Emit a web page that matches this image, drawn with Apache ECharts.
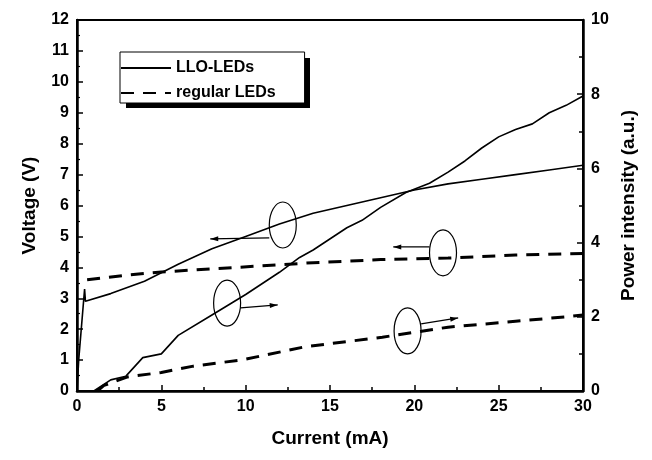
<!DOCTYPE html>
<html>
<head>
<meta charset="utf-8">
<title>LED I-V and L-I</title>
<script src="https://cdn.jsdelivr.net/npm/echarts@6/dist/echarts.min.js"></script>
</head>
<body style="margin:0;background:#fff;">
<div id="main" style="width:652px;height:460px;"></div>
<script type="text/javascript">
// current (mA) / voltage (V), LLO-LEDs
var lloVCurrent = [0, 0.1, 0.45, 0.5, 2, 4, 6, 8, 10, 12, 14, 16, 18, 20, 22, 24, 26, 28, 30];
var lloVoltage  = [0, 1.0, 3.3, 2.9, 3.15, 3.55, 4.1, 4.6, 5.0, 5.4, 5.75, 6.0, 6.25, 6.5, 6.7, 6.85, 7.0, 7.15, 7.3];
// regular LEDs voltage
var regVCurrent = [0.6, 3, 5, 8, 11, 14, 18, 22, 26, 30];
var regVoltage  = [3.6, 3.75, 3.85, 3.95, 4.05, 4.15, 4.25, 4.3, 4.4, 4.45];
// power intensity (a.u.), LLO-LEDs
var lloPCurrent = [1.0, 2.0, 2.9, 3.9, 5.0, 6.0, 8, 10, 12, 13.2, 14, 16, 16.9, 18, 19.5, 20.9, 22, 23, 24, 25, 26, 27, 28, 29, 30];
var lloPower    = [0, 0.3, 0.4, 0.9, 1.0, 1.5, 2.05, 2.6, 3.2, 3.6, 3.8, 4.4, 4.6, 4.95, 5.35, 5.6, 5.9, 6.2, 6.55, 6.85, 7.05, 7.2, 7.5, 7.7, 7.95];
// power intensity, regular LEDs
var regPCurrent = [1.2, 1.6, 3, 5, 6.9, 9.8, 13.5, 18.1, 22, 26, 29, 30];
var regPower    = [0, 0.15, 0.38, 0.5, 0.67, 0.84, 1.19, 1.45, 1.72, 1.88, 2.0, 2.05];

var seriesNames = ['LLO-LEDs', 'regular LEDs'];

function pairs(xs, ys) {
    var out = [];
    for (var i = 0; i < xs.length; i++) out.push([xs[i], ys[i]]);
    return out;
}

var font = '"Liberation Sans", Arial, sans-serif';
var solid = { color: '#000', width: 1.6, type: 'solid' };
var dashed = { color: '#000', width: 3, type: [13, 9] };

var myChart = echarts.init(document.getElementById('main'));

var option = {
    animation: false,
    backgroundColor: '#fff',
    grid: { left: 77, right: 69, top: 20, bottom: 69, show: true, borderColor: '#000', borderWidth: 2 },
    legend: {
        data: seriesNames,
        orient: 'vertical',
        left: 120, top: 52,
        itemWidth: 50, itemHeight: 14, itemGap: 9,
        padding: [8, 29, 2, 0],
        backgroundColor: '#fff',
        borderColor: '#000', borderWidth: 1,
        itemStyle: { opacity: 0 },
        textStyle: { fontFamily: font, fontWeight: 'bold', fontSize: 16, color: '#000' }
    },
    xAxis: {
        type: 'value', min: 0, max: 30, interval: 5,
        name: 'Current (mA)', nameLocation: 'middle', nameGap: 38,
        nameTextStyle: { fontFamily: font, fontWeight: 'bold', fontSize: 19, color: '#000' },
        axisLine: { lineStyle: { color: '#000', width: 2.5 } },
        axisTick: { inside: true, length: 6, lineStyle: { color: '#000', width: 1.5 } },
        minorTick: { show: true, splitNumber: 2, length: 4, lineStyle: { color: '#000', width: 1.5 } },
        axisLabel: { fontFamily: font, fontWeight: 'bold', fontSize: 16, color: '#000', margin: 8 },
        splitLine: { show: false }
    },
    yAxis: [{
        type: 'value', min: 0, max: 12, interval: 1,
        name: 'Voltage (V)', nameLocation: 'middle', nameGap: 38, nameRotate: 90,
        nameTextStyle: { fontFamily: font, fontWeight: 'bold', fontSize: 19, color: '#000' },
        axisLine: { show: true, lineStyle: { color: '#000', width: 2.5 } },
        axisTick: { inside: true, length: 6, lineStyle: { color: '#000', width: 1.5 } },
        minorTick: { show: true, splitNumber: 2, length: 3, lineStyle: { color: '#000', width: 1.2 } },
        axisLabel: { fontFamily: font, fontWeight: 'bold', fontSize: 16, color: '#000', margin: 8 },
        splitLine: { show: false }
    }, {
        type: 'value', min: 0, max: 10, interval: 2, position: 'right',
        name: 'Power intensity (a.u.)', nameLocation: 'middle', nameGap: 36, nameRotate: 90,
        nameTextStyle: { fontFamily: font, fontWeight: 'bold', fontSize: 19, color: '#000' },
        axisLine: { show: true, lineStyle: { color: '#000', width: 2.5 } },
        axisTick: { inside: true, length: 6, lineStyle: { color: '#000', width: 1.5 } },
        minorTick: { show: true, splitNumber: 2, length: 4, lineStyle: { color: '#000', width: 1.5 } },
        axisLabel: { fontFamily: font, fontWeight: 'bold', fontSize: 16, color: '#000', margin: 8 },
        splitLine: { show: false }
    }],
    series: [
        { name: seriesNames[0], type: 'line', yAxisIndex: 0, symbol: 'none', data: pairs(lloVCurrent, lloVoltage), lineStyle: solid, itemStyle: { color: '#000' } },
        { name: seriesNames[1], type: 'line', yAxisIndex: 0, symbol: 'none', data: pairs(regVCurrent, regVoltage), lineStyle: dashed, itemStyle: { color: '#000' } },
        { name: seriesNames[0], type: 'line', yAxisIndex: 1, symbol: 'none', data: pairs(lloPCurrent, lloPower), lineStyle: solid, itemStyle: { color: '#000' } },
        { name: seriesNames[1], type: 'line', yAxisIndex: 1, symbol: 'none', data: pairs(regPCurrent, regPower), lineStyle: dashed, itemStyle: { color: '#000' } }
    ]
};
myChart.setOption(option);

// annotation ellipses with arrows: [axis, centre, arrowStart, arrowTip]
var notes = [
    [0, [12.2, 5.37], [11.4, 4.95], [7.9, 4.92]],
    [0, [21.7, 4.47], [20.9, 4.66], [18.75, 4.66]],
    [1, [8.9, 2.37], [9.7, 2.24], [11.9, 2.32]],
    [1, [19.6, 1.62], [20.4, 1.81], [22.6, 1.97]]
];
var graphics = [];
notes.forEach(function (n) {
    var finder = { xAxisIndex: 0, yAxisIndex: n[0] };
    var c = myChart.convertToPixel(finder, n[1]);
    var a = myChart.convertToPixel(finder, n[2]);
    var b = myChart.convertToPixel(finder, n[3]);
    graphics.push({ type: 'ellipse', shape: { cx: c[0], cy: c[1], rx: 13.5, ry: 23 }, style: { fill: 'none', stroke: '#000', lineWidth: 1.2 }, z: 10 });
    graphics.push({ type: 'line', shape: { x1: a[0], y1: a[1], x2: b[0], y2: b[1] }, style: { stroke: '#000', lineWidth: 1.2 }, z: 10 });
    var dx = b[0] - a[0], dy = b[1] - a[1], len = Math.sqrt(dx * dx + dy * dy);
    var ux = dx / len, uy = dy / len;
    graphics.push({ type: 'polygon', shape: { points: [
        [b[0], b[1]],
        [b[0] - ux * 8 - uy * 2.5, b[1] - uy * 8 + ux * 2.5],
        [b[0] - ux * 8 + uy * 2.5, b[1] - uy * 8 - ux * 2.5]
    ] }, style: { fill: '#000' }, z: 10 });
});
// drop shadow behind the legend box
graphics.push({ type: 'rect', shape: { x: 126, y: 58, width: 184, height: 50 }, style: { fill: '#000' }, z: 1 });
myChart.setOption({ graphic: graphics });
</script>
</body>
</html>
